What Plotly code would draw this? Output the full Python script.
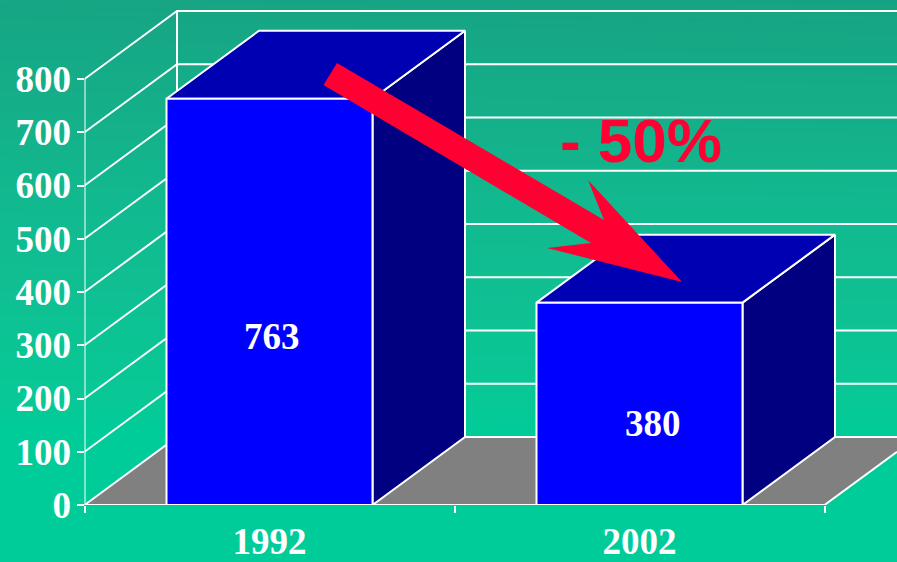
import plotly.graph_objects as go

# Chart data
years = ["1992", "2002"]
values = [763, 380]
value_label_y = [317, 154]
value_label_x = [0.007, 1.036]
y_ticks = [0, 100, 200, 300, 400, 500, 600, 700, 800]
change_text = "- 50%"

# Canvas and plot-area geometry, in screen pixels
W, H = 897, 562
LEFT, BASE = 84.5, 505.0
PX_PER_CAT = 370.0
PX_PER_UNIT = 426.0 / 800

# Pseudo-3D extrusion, in axis units
DEPTH_X = 92.5 / PX_PER_CAT
DEPTH_Y = 68.0 / PX_PER_UNIT
BAR_W = 206.0 / PX_PER_CAT

X_MIN, X_WALL_END = -0.5, 1.5
X_MAX = X_MIN + (W - LEFT) / PX_PER_CAT
Y_TOP = 800
Y_MAX = BASE / PX_PER_UNIT

WHITE = "#ffffff"
FRONT, TOP, SIDE = "#0000ff", "#0000b3", "#000080"
FLOOR = "#808080"
RED = "#ff0033"
SERIF = "Liberation Serif"

fig = go.Figure()

# Background wash on its own full-canvas axes
fig.add_trace(go.Heatmap(
    x=[0, 1], y=[0, 1],
    z=[[0.0, 0.0], [0.97, 1.0]],
    zmin=0, zmax=1, zsmooth="best", showscale=False, hoverinfo="skip",
    colorscale=[[0, "#00cc99"], [0.226, "#00cc99"], [0.288, "#08c896"], [0.5, "#10be92"],
                [0.66, "#12b78e"], [0.77, "#14b08a"], [1, "#17a383"]],
    xaxis="x", yaxis="y",
))


def poly(xs, ys, fill=None, line_w=2.0, line_color=WHITE):
    """Add a closed filled polygon or an open white line on the chart axes."""
    fig.add_trace(go.Scatter(
        x=xs, y=ys, mode="lines", xaxis="x2", yaxis="y2",
        fill="toself" if fill else "none",
        fillcolor=fill,
        line=dict(color=line_color, width=line_w),
        hoverinfo="skip", showlegend=False, cliponaxis=False if not fill else True,
    ))


# Floor
right_floor = X_WALL_END + DEPTH_X
fig.add_trace(go.Scatter(
    x=[X_MIN, X_WALL_END, right_floor, X_MIN + DEPTH_X, X_MIN],
    y=[0, 0, DEPTH_Y, DEPTH_Y, 0],
    mode="lines", fill="toself", fillcolor=FLOOR, line=dict(width=0),
    xaxis="x2", yaxis="y2", hoverinfo="skip", showlegend=False,
))
fig.add_trace(go.Scatter(
    x=[X_WALL_END, min(right_floor, X_MAX)],
    y=[0, DEPTH_Y * (min(right_floor, X_MAX) - X_WALL_END) / DEPTH_X],
    mode="lines", line=dict(color=WHITE, width=2),
    xaxis="x2", yaxis="y2", hoverinfo="skip", showlegend=False,
))

# Side wall and back wall grid
for t in y_ticks:
    poly([X_MIN, X_MIN + DEPTH_X, X_MAX], [t, t + DEPTH_Y, t + DEPTH_Y], line_w=2.0)
poly([X_MIN + DEPTH_X, X_MIN + DEPTH_X], [DEPTH_Y, Y_TOP + DEPTH_Y])
poly([X_MIN, X_MIN], [0, Y_TOP])

# Extruded bars: side face, top face, front face
for i, v in enumerate(values):
    x0, x1 = i - BAR_W / 2, i + BAR_W / 2
    poly([x1, x1 + DEPTH_X, x1 + DEPTH_X, x1, x1],
         [0, DEPTH_Y, v + DEPTH_Y, v, 0], fill=SIDE)
    poly([x0, x1, x1 + DEPTH_X, x0 + DEPTH_X, x0],
         [v, v, v + DEPTH_Y, v + DEPTH_Y, v], fill=TOP)
    poly([x0, x1, x1, x0, x0], [0, 0, v, v, 0], fill=FRONT)

# Front edge of the floor
poly([X_MIN, X_WALL_END], [0, 0])

# Down-trend arrow, outlined in pixels and placed in paper space
arrow_px = [(337, 63), (604, 220), (588, 180), (682, 282),
            (547, 248), (591, 243), (323.5, 85)]
path = "M " + " L ".join(f"{px / W:.5f},{1 - py / H:.5f}" for px, py in arrow_px) + " Z"
fig.add_shape(type="path", path=path, xref="paper", yref="paper",
              fillcolor=RED, line=dict(width=0), layer="above")

annotations = [
    dict(text=str(v), x=value_label_x[i], y=value_label_y[i], xref="x2", yref="y2",
         xanchor="center", yanchor="middle", showarrow=False,
         font=dict(family=SERIF, size=37, color=WHITE, weight=700))
    for i, v in enumerate(values)
]
annotations.append(dict(
    text=change_text, x=641 / W, y=1 - 140 / H, xref="paper", yref="paper",
    xanchor="center", yanchor="middle", showarrow=False,
    font=dict(family="Liberation Sans", size=62, color=RED, weight=700),
))

fig.update_layout(
    width=W, height=H, autosize=False,
    margin=dict(l=0, r=0, t=0, b=0, pad=0),
    showlegend=False,
    paper_bgcolor="#00cc99", plot_bgcolor="rgba(0,0,0,0)",
    annotations=annotations,
    xaxis=dict(domain=[0, 1], range=[0, 1], visible=False, fixedrange=True, automargin=False),
    yaxis=dict(domain=[0, 1], range=[0, 1], visible=False, fixedrange=True, automargin=False),
    xaxis2=dict(
        domain=[LEFT / W, 1], range=[X_MIN, X_MAX], anchor="y2", automargin=False,
        tickmode="array", tickvals=[0, 1], ticktext=years, ticks="",
        ticklabelstandoff=11,
        tickfont=dict(family=SERIF, size=37, color=WHITE, weight=700),
        minor=dict(tickmode="array", tickvals=[-0.5, 0.5, 1.5], ticks="outside",
                   ticklen=7, tickwidth=2, tickcolor=WHITE),
        showgrid=False, zeroline=False, showline=False, fixedrange=True,
    ),
    yaxis2=dict(
        domain=[(H - BASE) / H, 1], range=[0, Y_MAX], anchor="x2", automargin=False,
        tickmode="array", tickvals=y_ticks, ticks="outside",
        ticklen=7, tickwidth=2, tickcolor=WHITE, ticklabelstandoff=-2,
        tickfont=dict(family=SERIF, size=37, color=WHITE, weight=700),
        showgrid=False, zeroline=False, showline=False, fixedrange=True,
    ),
)

fig.write_html("out.html")
